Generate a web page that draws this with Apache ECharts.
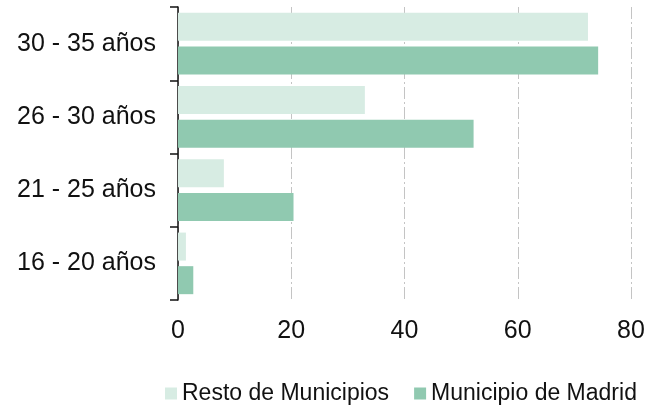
<!DOCTYPE html>
<html>
<head>
<meta charset="utf-8">
<script src="https://cdn.jsdelivr.net/npm/echarts@6/dist/echarts.min.js"></script>
<style>
  html, body { margin: 0; padding: 0; background: #fff; }
  #chart { width: 659px; height: 412px; }
</style>
</head>
<body>
<div id="chart"></div>
<script>
// grupos de edad (de arriba a abajo)
const categories = ['30 - 35 años', '26 - 30 años', '21 - 25 años', '16 - 20 años']
const resto = [72.4, 33.0, 8.1, 1.4]
const madrid = [74.2, 52.2, 20.4, 2.7]
const seriesNames = ['Resto de Municipios', 'Municipio de Madrid']

const chart = echarts.init(document.getElementById('chart'))
chart.setOption({
  animation: false,
  textStyle: { fontFamily: 'Liberation Sans, Arial, sans-serif' },
  grid: {
    left: 178,
    right: 28,
    top: 7,
    bottom: 112
  },
  legend: {
    data: seriesNames,
    left: 165,
    top: 382,
    padding: 0,
    itemWidth: 12,
    itemHeight: 12,
    itemGap: 25,
    icon: 'rect',
    textStyle: {
      fontSize: 23,
      color: '#111'
    }
  },
  xAxis: {
    type: 'value',
    min: 0,
    max: 80,
    interval: 20,
    axisLine: { show: false },
    axisTick: { show: false },
    axisLabel: {
      fontSize: 25,
      color: '#111',
      margin: 19
    },
    splitLine: {
      show: true,
      lineStyle: {
        color: '#c4c4c4',
        width: 1,
        type: [12, 3, 2, 3] // raya-punto
      }
    }
  },
  yAxis: {
    type: 'category',
    data: categories,
    inverse: true,
    axisLine: {
      show: true,
      lineStyle: { color: '#111', width: 1.5 }
    },
    axisTick: {
      show: true,
      length: 8,
      lineStyle: { color: '#111', width: 1.5 }
    },
    axisLabel: {
      fontSize: 25,
      color: '#111',
      margin: 22
    }
  },
  series: [
    {
      name: seriesNames[0],
      type: 'bar',
      data: resto,
      barWidth: 28,
      barGap: '20%',
      itemStyle: { color: '#d7ece3' }
    },
    {
      name: seriesNames[1],
      type: 'bar',
      data: madrid,
      barWidth: 28,
      barGap: '20%',
      itemStyle: { color: '#90c9b0' }
    }
  ]
})
</script>
</body>
</html>
